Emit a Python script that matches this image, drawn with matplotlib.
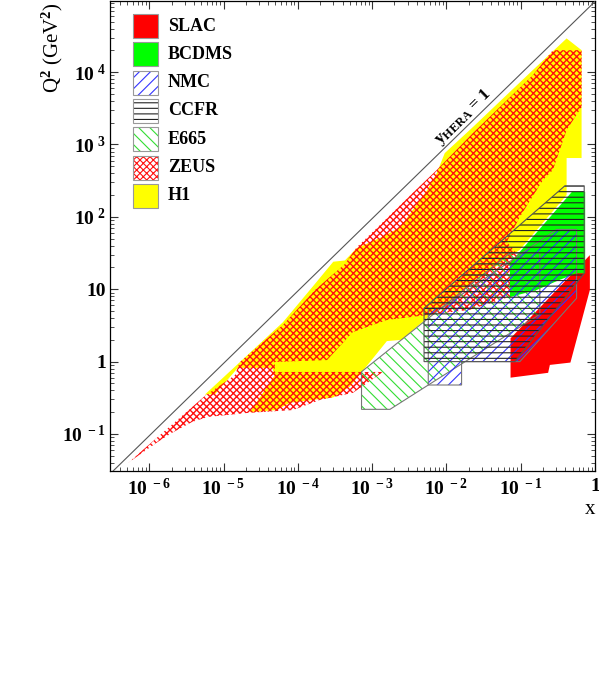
import matplotlib
matplotlib.use('Agg')
import matplotlib.pyplot as plt
from matplotlib.patches import Polygon, Rectangle

plt.rcParams['font.family'] = 'Liberation Serif'
plt.rcParams['font.weight'] = 'bold'
plt.rcParams['mathtext.fontset'] = 'custom'
plt.rcParams['mathtext.rm'] = 'Liberation Serif:bold'
plt.rcParams['mathtext.it'] = 'Liberation Serif:bold'
plt.rcParams['mathtext.bf'] = 'Liberation Serif:bold'
plt.rcParams['hatch.linewidth'] = 0.8

# kinematic regions (x, Q^2 in GeV^2)
h1_x = [5.6e-6, 6.3e-5, 1.6e-4, 3.0e-4, 4.3e-4, 6.2e-4, 1.27e-3, 2.4e-3, 3.5e-3, 5.5e-3,
        7.4e-3, 9.5e-3, 2.3e-2, 0.146, 0.415, 0.66, 0.66, 0.415, 0.415, 0.165,
        0.097, 0.028, 5.5e-3, 2.5e-3, 1.58e-3, 7.3e-4, 5.0e-4, 3.0e-4, 1.6e-4, 7.8e-5,
        5.2e-5, 2.26e-5, 4.9e-5, 4.5e-5, 1.56e-5, 7.7e-6]
h1_q2 = [0.35, 3.5, 11, 24, 25, 37, 51, 72, 124, 234,
         400, 760, 1760, 10700, 29200, 20100, 650, 650, 200, 66,
         35, 14.3, 4.0, 2.0, 1.92, 0.72, 0.45, 0.32, 0.295, 0.27,
         0.214, 0.20, 0.65, 0.82, 0.82, 0.356]

zeus_x = [5.2e-7, 5.6e-6, 1.42e-5, 1.66e-5, 6.3e-5, 1.7e-4, 4.3e-4, 6.2e-4, 1.27e-3, 3.5e-3,
          7.4e-3, 2.27e-2, 0.146, 0.271, 0.66, 0.66, 0.415, 0.271, 0.199, 0.097,
          0.065, 0.1007, 0.0836, 0.0207, 5.5e-3, 1.58e-3, 5.5e-4, 2.47e-4, 4.9e-5, 4.9e-5,
          1.4e-3, 7.3e-4, 5.5e-4, 1.98e-4, 8.6e-5, 2.07e-5, 6.2e-6, 3.8e-6, 2.0e-6, 1.31e-6]
zeus_q2 = [0.040, 0.335, 0.65, 0.99, 3.2, 9.75, 22.3, 38, 77, 213,
           443, 1435, 9100, 20100, 20100, 3290, 1580, 443, 322, 99,
           45, 27, 8.3, 5.2, 4.4, 3.76, 2.56, 1.05, 0.99, 0.72,
           0.72, 0.45, 0.37, 0.295, 0.214, 0.195, 0.172, 0.147, 0.103, 0.078]

slac_x = [0.073, 0.073, 0.234, 0.247, 0.467, 0.853, 0.853]
slac_q2 = [2.1, 0.60, 0.70, 0.90, 0.97, 9.75, 29.6]

bcdms_x = [0.0715, 0.49, 0.738, 0.738, 0.565, 0.33, 0.164, 0.0715]
bcdms_q2 = [22.8, 222, 222, 16.6, 16.6, 13.4, 9.75, 7.8]

nmc_x = [5.7e-3, 5.7e-3, 8.6e-3, 0.304, 0.565, 0.565, 0.0975, 0.016, 0.016]
nmc_q2 = [0.475, 5.45, 5.45, 67, 67, 7.5, 1.0, 1.0, 0.475]

ccfr_x = [5.0e-3, 5.0e-3, 0.394, 0.716, 0.716, 0.0836]
ccfr_q2 = [1.0, 5.45, 269, 269, 16.6, 1.0]

e665_x = [7.2e-4, 0.0715, 0.181, 0.181, 5.7e-3, 1.74e-3, 7.2e-4]
e665_q2 = [0.725, 31.6, 31.6, 4.5, 0.475, 0.219, 0.219]

hera_s = 9.45e4          # y_HERA = 1 line: Q^2 = s x
hera_x = [1e-7, 1.0]

x_ticks = [1e-6, 1e-5, 1e-4, 1e-3, 1e-2, 1e-1, 1]
x_labels = [r'$10^{\ -6}$', r'$10^{\ -5}$', r'$10^{\ -4}$', r'$10^{\ -3}$',
            r'$10^{\ -2}$', r'$10^{\ -1}$', '1']
y_ticks = [0.1, 1, 10, 100, 1e3, 1e4]
y_labels = [r'$10^{\ -1}$', '1', '10', r'$10^{\ 2}$', r'$10^{\ 3}$', r'$10^{\ 4}$']

names = ['SLAC', 'BCDMS', 'NMC', 'CCFR', 'E665', 'ZEUS', 'H1']
styles = {
    'SLAC':  dict(face='#ff0000', hatch=None, hc=None),
    'BCDMS': dict(face='#00ff00', hatch=None, hc=None),
    'NMC':   dict(face='none', hatch='///', hc='#3333ff'),
    'CCFR':  dict(face='none', hatch='---', hc='#222222'),
    'E665':  dict(face='none', hatch='\\\\\\', hc='#33dd33'),
    'ZEUS':  dict(face='none', hatch='xxxxx', hc='#ff1010'),
    'H1':    dict(face='#ffff00', hatch=None, hc=None),
}

fig = plt.figure(figsize=(5.99, 6.83), dpi=100)
ax = fig.add_axes([0.1836, 0.3104, 0.8097, 0.6881])
ax.set_xscale('log')
ax.set_yscale('log')
ax.set_xlim(2.96e-7, 1)
ax.set_ylim(0.0308, 9.6e4)


def region(xs, qs, name, outline=None, z=1, hlw=0.8):
    st = styles[name]
    pts = list(zip(xs, qs))
    if st['face'] != 'none':
        ax.add_patch(Polygon(pts, closed=True, facecolor=st['face'], edgecolor='none', zorder=z))
    if st['hatch']:
        with plt.rc_context({'hatch.linewidth': hlw}):
            ax.add_patch(Polygon(pts, closed=True, facecolor='none', edgecolor=st['hc'],
                                 hatch=st['hatch'], linewidth=0, zorder=z))
    if outline:
        ax.add_patch(Polygon(pts, closed=True, facecolor='none', edgecolor=outline,
                             linewidth=0.8, zorder=z + 0.1))


region(h1_x, h1_q2, 'H1', z=1)
region(zeus_x, zeus_q2, 'ZEUS', z=2, hlw=1.0)
region(slac_x, slac_q2, 'SLAC', z=3)
region(bcdms_x, bcdms_q2, 'BCDMS', z=3)
region(e665_x, e665_q2, 'E665', outline='#777777', z=4)
region(nmc_x, nmc_q2, 'NMC', outline='#777777', z=5)
region(ccfr_x, ccfr_q2, 'CCFR', outline='#555555', z=6)

ax.plot(hera_x, [hera_s * v for v in hera_x], color='#555555', lw=0.8, zorder=7)
ax.text(0.01683, 2415, r'$\mathrm{y}_{\mathrm{HERA}}$ = 1', rotation=44.3,
        rotation_mode='anchor', ha='center', va='center', fontsize=12.5, zorder=8)

# legend boxes
for i, name in enumerate(names):
    st = styles[name]
    y0 = 0.9723 - i * 0.0602 - 0.0511
    if st['face'] != 'none':
        ax.add_patch(Rectangle((0.0474, y0), 0.0515, 0.0511, transform=ax.transAxes,
                               facecolor=st['face'], edgecolor='none', zorder=9))
    if st['hatch']:
        ax.add_patch(Rectangle((0.0474, y0), 0.0515, 0.0511, transform=ax.transAxes,
                               facecolor='none', edgecolor=st['hc'], hatch=st['hatch'],
                               linewidth=0, zorder=9))
    ax.add_patch(Rectangle((0.0474, y0), 0.0515, 0.0511, transform=ax.transAxes,
                           facecolor='none', edgecolor='#999999', linewidth=0.8, zorder=9))
    ax.text(0.1196, y0 + 0.0255, name, transform=ax.transAxes, va='center', ha='left',
            fontsize=13, zorder=9)

ax.set_xticks(x_ticks)
ax.set_xticklabels(x_labels, fontsize=14)
ax.set_yticks(y_ticks)
ax.set_yticklabels(y_labels, fontsize=14)
ax.tick_params(which='both', direction='in', top=True, right=True, colors='#333333',
               labelcolor='black')
ax.tick_params(which='major', length=6, width=0.8)
ax.tick_params(axis='x', which='major', pad=5)
ax.tick_params(axis='y', which='major', pad=3)
ax.tick_params(which='minor', length=3, width=0.6)
for sp in ax.spines.values():
    sp.set_linewidth(0.9)

ax.set_ylabel(r'Q$^{2}$ (GeV$^{2}$)', loc='top', fontsize=15)
ax.yaxis.set_label_coords(-0.092, 0.997)
ax.set_xlabel('x', loc='right', fontsize=15)
ax.xaxis.set_label_coords(1.0, -0.062)

fig.savefig('out.png', dpi=100)
